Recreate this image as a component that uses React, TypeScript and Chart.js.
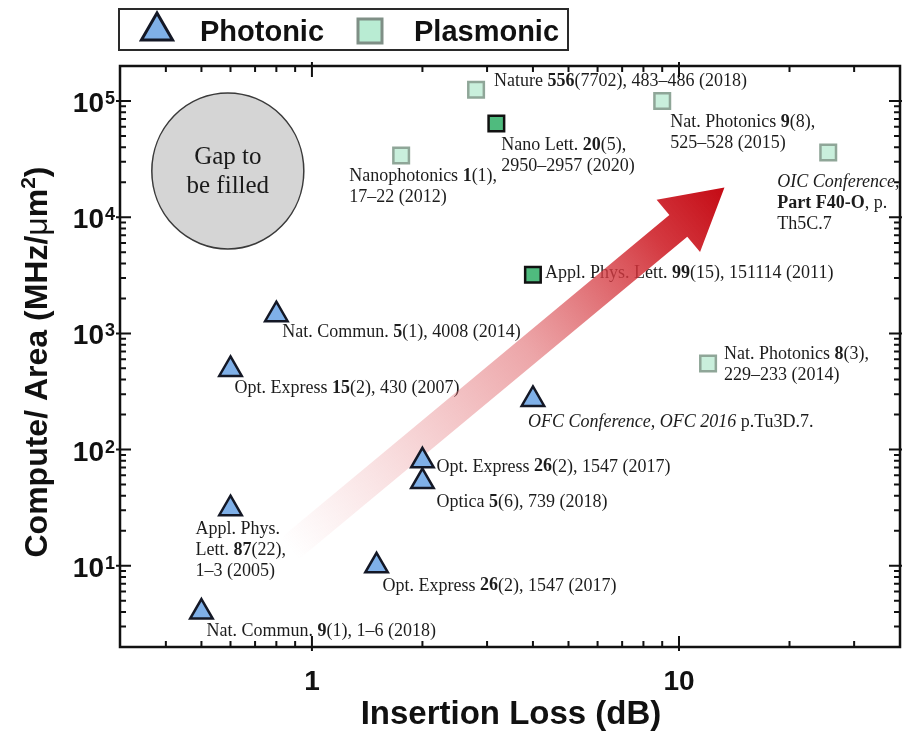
import React, { useEffect, useRef } from 'react';
import { Chart, registerables } from 'chart.js';

Chart.register(...registerables);

// ---- data -------------------------------------------------------------
// Photonic devices: insertion loss (dB) vs compute density (MHz/um^2)
const photonicLoss = [0.8, 0.6, 4, 2, 2, 0.6, 1.5, 0.5];
const photonicDensity = [1450, 490, 270, 80, 53, 31, 10, 4];
const photonicRefs = [
  ['Nat. Commun. **5**(1), 4008 (2014)'],
  ['Opt. Express **15**(2), 430 (2007)'],
  ['_OFC Conference, OFC 2016_ p.Tu3D.7.'],
  ['Opt. Express **26**(2), 1547 (2017)'],
  ['Optica **5**(6), 739 (2018)'],
  ['Appl. Phys.', 'Lett. **87**(22),', '1–3 (2005)'],
  ['Opt. Express **26**(2), 1547 (2017)'],
  ['Nat. Commun. **9**(1), 1–6 (2018)'],
];

// Plasmonic devices
const plasmonicLoss = [2.8, 3.18, 1.75, 9, 25.5, 4, 12];
const plasmonicDensity = [125000, 64000, 34000, 100000, 36000, 3200, 550];
const plasmonicRecent = [false, true, false, false, false, true, false];
const plasmonicRefs = [
  ['Nature **556**(7702), 483–486 (2018)'],
  ['Nano Lett. **20**(5),', '2950–2957 (2020)'],
  ['Nanophotonics **1**(1),', '17–22 (2012)'],
  ['Nat. Photonics **9**(8),', '525–528 (2015)'],
  ['_OIC Conference,_', '**Part F40-O**, p.', 'Th5C.7'],
  ['Appl. Phys. Lett. **99**(15), 151114 (2011)'],
  ['Nat. Photonics **8**(3),', '229–233 (2014)'],
];

// Axis ranges and labelled ticks
const xRange = [0.3, 40];
const yRange = [2, 200000];
const xTickValues = [1, 10];
const xTickLabels = ['1', '10'];
const yTickExponents = [1, 2, 3, 4, 5];

// Annotation anchors (data space)
const gapCenter = { x: 0.59, y: 25000 };
const trendFrom = { x: 0.87, y: 14 };
const trendTo = { x: 13.3, y: 18000 };

// ---- styling (pixel offsets of reference labels from their marks) ------
const photonicRefOffsets = [[6, 18], [4, 19], [-5, 23], [14, 6], [14, 21], [-35, 21], [6, 20], [5, 19]];
const plasmonicRefOffsets = [[18, -8], [5, 22], [-52, 21], [8, 21], [-51, 30], [12, -1], [16, -9]];

const SERIF = '"Liberation Serif", "Times New Roman", serif';
const SANS = '"Liberation Sans", Arial, sans-serif';
const TRI_FILL = '#7fb0e8';
const TRI_EDGE = '#141826';
const SQ_FILL = '#c9efdc';
const SQ_EDGE = '#8fa698';
const SQ_FILL_DARK = '#4fbb7e';
const SQ_EDGE_DARK = '#111111';
const W = 902;
const H = 733;
// plot frame
const AREA = { left: 120, top: 66, right: 900, bottom: 647 };

function drawRich(ctx: CanvasRenderingContext2D, text: string, x: number, y: number, size: number) {
  const parts = text.split(/(\*\*|_)/);
  let bold = false;
  let italic = false;
  let cx = x;
  for (const p of parts) {
    if (p === '**') { bold = !bold; continue; }
    if (p === '_') { italic = !italic; continue; }
    if (!p) continue;
    ctx.font = `${italic ? 'italic ' : ''}${bold ? 'bold ' : ''}${size}px ${SERIF}`;
    ctx.fillText(p, cx, y);
    cx += ctx.measureText(p).width;
  }
}

function triPath(ctx: CanvasRenderingContext2D, x: number, y: number, r: number) {
  ctx.beginPath();
  for (let k = 0; k < 3; k++) {
    const a = (k * 2 * Math.PI) / 3;
    const px = x + Math.sin(a) * r;
    const py = y - Math.cos(a) * r;
    if (k === 0) ctx.moveTo(px, py); else ctx.lineTo(px, py);
  }
  ctx.closePath();
}

const underlay = {
  id: 'underlay',
  beforeDatasetsDraw(chart: any) {
    const { ctx, scales } = chart;
    const xs = scales.x;
    const ys = scales.y;
    ctx.save();

    // "Gap to be filled" region
    const gx = xs.getPixelForValue(gapCenter.x);
    const gy = ys.getPixelForValue(gapCenter.y);
    ctx.beginPath();
    ctx.ellipse(gx, gy, 76, 78, 0, 0, Math.PI * 2);
    ctx.fillStyle = '#d5d5d5';
    ctx.fill();
    ctx.lineWidth = 1.5;
    ctx.strokeStyle = '#3a3a3a';
    ctx.stroke();
    ctx.fillStyle = '#1a1a1a';
    ctx.font = `25px ${SERIF}`;
    ctx.textAlign = 'center';
    ctx.textBaseline = 'middle';
    ctx.fillText('Gap to', gx, gy - 14);
    ctx.fillText('be filled', gx, gy + 15);

    // reference labels
    ctx.textAlign = 'left';
    ctx.fillStyle = '#1c1c1c';
    const labelSet = (lx: number[], ly: number[], refs: string[][], offs: number[][]) => {
      refs.forEach((lines, i) => {
        const px = xs.getPixelForValue(lx[i]);
        const py = ys.getPixelForValue(ly[i]);
        lines.forEach((line, j) => {
          drawRich(ctx, line, px + offs[i][0], py + offs[i][1] + j * 21, 18);
        });
      });
    };
    labelSet(photonicLoss, photonicDensity, photonicRefs, photonicRefOffsets);
    labelSet(plasmonicLoss, plasmonicDensity, plasmonicRefs, plasmonicRefOffsets);

    // trend arrow
    const x0 = xs.getPixelForValue(trendFrom.x);
    const y0 = ys.getPixelForValue(trendFrom.y);
    const x1 = xs.getPixelForValue(trendTo.x);
    const y1 = ys.getPixelForValue(trendTo.y);
    const len = Math.hypot(x1 - x0, y1 - y0);
    const ux = (x1 - x0) / len;
    const uy = (y1 - y0) / len;
    const nx = -uy;
    const ny = ux;
    const shaft = 14;
    const head = 34;
    const headLen = 60;
    const bx = x1 - ux * headLen;
    const by = y1 - uy * headLen;
    const grad = ctx.createLinearGradient(x0, y0, x1, y1);
    grad.addColorStop(0, 'rgba(230,120,125,0)');
    grad.addColorStop(0.2, 'rgba(228,115,120,0.2)');
    grad.addColorStop(0.55, 'rgba(222,95,100,0.56)');
    grad.addColorStop(0.85, 'rgba(208,40,48,0.92)');
    grad.addColorStop(1, 'rgba(196,10,20,1)');
    ctx.beginPath();
    ctx.moveTo(x0 + nx * shaft, y0 + ny * shaft);
    ctx.lineTo(bx + nx * shaft, by + ny * shaft);
    ctx.lineTo(bx + nx * head, by + ny * head);
    ctx.lineTo(x1, y1);
    ctx.lineTo(bx - nx * head, by - ny * head);
    ctx.lineTo(bx - nx * shaft, by - ny * shaft);
    ctx.lineTo(x0 - nx * shaft, y0 - ny * shaft);
    ctx.closePath();
    ctx.fillStyle = grad;
    ctx.fill();
    ctx.restore();
  },
};

const overlay = {
  id: 'overlay',
  afterDatasetsDraw(chart: any) {
    const { ctx, scales, chartArea } = chart;
    const xs = scales.x;
    const ys = scales.y;
    const { left, right, top, bottom } = chartArea;
    ctx.save();

    // frame
    ctx.strokeStyle = '#111';
    ctx.lineWidth = 2.5;
    ctx.strokeRect(left, top, right - left, bottom - top);

    // inward tick marks on all four sides
    ctx.lineWidth = 2;
    const xTick = (v: number, inLen: number, outLen: number) => {
      const p = xs.getPixelForValue(v);
      ctx.beginPath();
      ctx.moveTo(p, bottom + outLen); ctx.lineTo(p, bottom - inLen);
      ctx.moveTo(p, top - outLen); ctx.lineTo(p, top + inLen);
      ctx.stroke();
    };
    const yTick = (v: number, inLen: number, outLen: number) => {
      const p = ys.getPixelForValue(v);
      ctx.beginPath();
      ctx.moveTo(left - outLen, p); ctx.lineTo(left + inLen, p);
      ctx.moveTo(right + outLen, p); ctx.lineTo(right - inLen, p);
      ctx.stroke();
    };
    for (let d = -1; d <= 1; d++) {
      for (let k = 1; k <= 9; k++) {
        const v = k * Math.pow(10, d);
        if (v <= xRange[0] || v >= xRange[1]) continue;
        if (k === 1) xTick(v, 11, 4); else xTick(v, 6, 0);
      }
    }
    for (let d = 0; d <= 5; d++) {
      for (let k = 1; k <= 9; k++) {
        const v = k * Math.pow(10, d);
        if (v <= yRange[0] || v >= yRange[1]) continue;
        if (k === 1) yTick(v, 11, 4); else yTick(v, 6, 0);
      }
    }

    // tick labels
    ctx.fillStyle = '#111';
    ctx.textBaseline = 'alphabetic';
    ctx.textAlign = 'center';
    ctx.font = `bold 28px ${SANS}`;
    xTickValues.forEach((v, i) => {
      ctx.fillText(xTickLabels[i], xs.getPixelForValue(v), 690);
    });
    ctx.textAlign = 'left';
    yTickExponents.forEach((e) => {
      const p = ys.getPixelForValue(Math.pow(10, e));
      ctx.font = `bold 28px ${SANS}`;
      const w10 = ctx.measureText('10').width;
      ctx.font = `bold 18px ${SANS}`;
      const wSup = ctx.measureText(String(e)).width;
      const x0 = 115 - wSup - w10 - 1;
      ctx.font = `bold 28px ${SANS}`;
      ctx.fillText('10', x0, p + 11);
      ctx.font = `bold 18px ${SANS}`;
      ctx.fillText(String(e), x0 + w10 + 1, p + 3);
    });

    // axis titles
    ctx.font = `bold 33px ${SANS}`;
    ctx.textAlign = 'center';
    ctx.fillText('Insertion Loss (dB)', 511, 724);

    ctx.save();
    ctx.translate(47, 362);
    ctx.rotate(-Math.PI / 2);
    const segs: [string, string, number][] = [
      ['Compute/ Area (MHz/', `bold 32px ${SANS}`, 0],
      ['μ', `32px ${SANS}`, 0],
      ['m', `bold 32px ${SANS}`, 0],
      ['2', `bold 21px ${SANS}`, -12],
      [')', `bold 32px ${SANS}`, 0],
    ];
    let total = 0;
    segs.forEach(([t, f]) => { ctx.font = f; total += ctx.measureText(t).width; });
    let cx = -total / 2;
    ctx.textAlign = 'left';
    segs.forEach(([t, f, dy]) => {
      ctx.font = f;
      ctx.fillText(t, cx, dy);
      cx += ctx.measureText(t).width;
    });
    ctx.restore();

    // legend
    ctx.fillStyle = '#fff';
    ctx.fillRect(119, 9, 449, 41);
    ctx.strokeStyle = '#2a2a2a';
    ctx.lineWidth = 2;
    ctx.strokeRect(119, 9, 449, 41);
    triPath(ctx, 157, 31, 18);
    ctx.fillStyle = TRI_FILL;
    ctx.fill();
    ctx.lineWidth = 3;
    ctx.strokeStyle = TRI_EDGE;
    ctx.stroke();
    ctx.fillStyle = '#b9ecd3';
    ctx.fillRect(358, 19, 24, 24);
    ctx.lineWidth = 3;
    ctx.strokeStyle = '#7f8f86';
    ctx.strokeRect(358, 19, 24, 24);
    ctx.fillStyle = '#111';
    ctx.font = `bold 29px ${SANS}`;
    ctx.textAlign = 'left';
    ctx.fillText('Photonic', 200, 41);
    ctx.fillText('Plasmonic', 414, 41);

    ctx.restore();
  },
};

export default function App() {
  const canvasRef = useRef<HTMLCanvasElement | null>(null);

  useEffect(() => {
    const canvas = canvasRef.current;
    if (!canvas) return;
    document.body.style.margin = '0';
    document.body.style.overflow = 'hidden';
    const photonic = photonicLoss.map((x, i) => ({ x, y: photonicDensity[i] }));
    const plasmonic = plasmonicLoss.map((x, i) => ({ x, y: plasmonicDensity[i] }));
    const chart = new Chart(canvas, {
      type: 'scatter',
      data: {
        datasets: [
          {
            label: 'Plasmonic',
            data: plasmonic,
            pointStyle: 'rect',
            pointRadius: 11,
            pointBorderWidth: 2.5,
            pointBackgroundColor: plasmonicRecent.map((r) => (r ? SQ_FILL_DARK : SQ_FILL)),
            pointBorderColor: plasmonicRecent.map((r) => (r ? SQ_EDGE_DARK : SQ_EDGE)),
          },
          {
            label: 'Photonic',
            data: photonic,
            pointStyle: 'triangle',
            pointRadius: 13,
            pointBorderWidth: 2.5,
            pointBackgroundColor: TRI_FILL,
            pointBorderColor: TRI_EDGE,
          },
        ],
      },
      options: {
        animation: false,
        responsive: false,
        maintainAspectRatio: false,
        layout: {
          autoPadding: false,
          padding: { left: AREA.left, top: AREA.top, right: W - AREA.right, bottom: H - AREA.bottom },
        },
        plugins: {
          legend: { display: false },
          tooltip: { enabled: false },
        },
        scales: {
          x: {
            type: 'logarithmic',
            min: xRange[0],
            max: xRange[1],
            grid: { display: false, drawTicks: false },
            border: { display: false },
            ticks: { display: false },
          },
          y: {
            type: 'logarithmic',
            min: yRange[0],
            max: yRange[1],
            grid: { display: false, drawTicks: false },
            border: { display: false },
            ticks: { display: false },
          },
        },
      },
      plugins: [underlay, overlay],
    });
    return () => chart.destroy();
  }, []);

  return (
    <div style={{ position: 'fixed', left: 0, top: 0, width: W, height: H, overflow: 'hidden', background: '#fff' }}>
      <canvas ref={canvasRef} width={W} height={H} style={{ display: 'block', width: W, height: H }} />
    </div>
  );
}
